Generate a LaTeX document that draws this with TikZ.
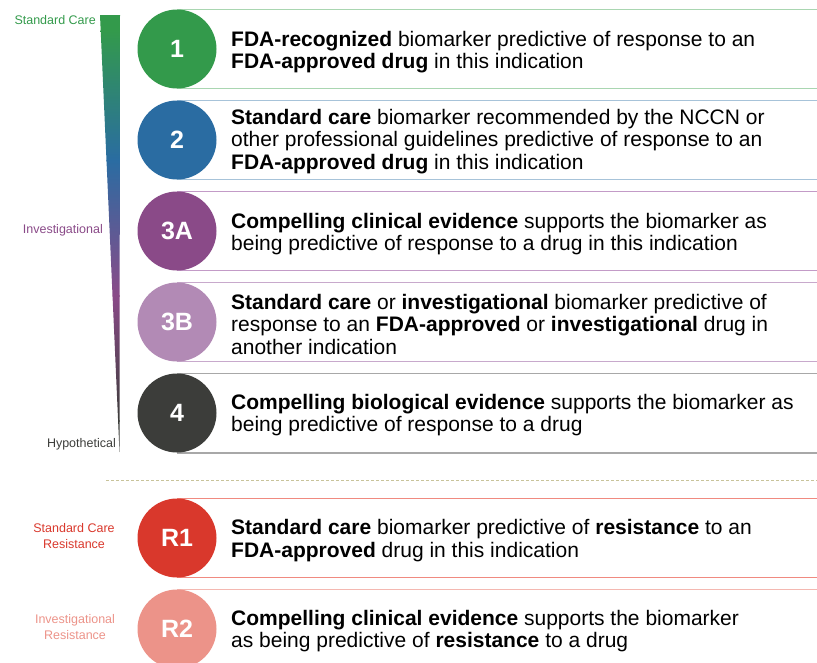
\documentclass[tikz,border=0pt]{standalone}
\usepackage{fontspec}
\setmainfont{Liberation Sans}
\usetikzlibrary{backgrounds}
\definecolor{cgreen}{HTML}{339A4B}
\definecolor{cteal}{HTML}{2B7F82}
\definecolor{cblue}{HTML}{2A6CA2}
\definecolor{cpurple}{HTML}{8A4A88}
\definecolor{clilac}{HTML}{B28AB5}
\definecolor{cdark}{HTML}{3C3D3A}
\definecolor{cred}{HTML}{D9382C}
\definecolor{cpink}{HTML}{EC9389}
\definecolor{lgreen}{HTML}{A9D6B1}
\definecolor{lblue}{HTML}{A7C3D9}
\definecolor{lpurple}{HTML}{C39BC7}
\definecolor{llilac}{HTML}{C8A9CC}
\definecolor{lgray}{HTML}{A8A8A8}
\definecolor{lred}{HTML}{F08A80}
\definecolor{lpink}{HTML}{F4B8B1}
\definecolor{khaki}{HTML}{C8C39A}
\begin{document}
\begin{tikzpicture}[x=1pt,y=-1pt,
  num/.style={circle, minimum size=79pt, inner sep=0pt, text=white,
    font=\fontsize{25}{25}\selectfont\bfseries},
  desc/.style={anchor=west, align=left, inner sep=0pt,
    font=\fontsize{21}{22.5}\selectfont},
  side/.style={inner sep=0pt, font=\fontsize{12.5}{15.5}\selectfont},
  rule/.style={line width=1.2pt}]
\useasboundingbox (0,0) rectangle (817,662);
\clip (0,0) rectangle (817,662);
\coordinate (R) at (817,0);

% wedge with vertical colour gradient
\begin{scope}
\clip (100,15) -- (120,15) -- (119.5,452) -- cycle;
\fill[cgreen] (95,10) rectangle (125,31);
\shade[top color=cgreen, bottom color=cblue, shading angle=0] (95,30) rectangle (125,161);
\shade[top color=cblue, bottom color=cpurple] (95,160) rectangle (125,296);
\shade[top color=cpurple, bottom color=cdark] (95,295) rectangle (125,421);
\fill[cdark] (95,420) rectangle (125,460);
\end{scope}

% side labels
\node[side, anchor=east, text=cgreen] (s1) at (96,20) {Standard Care};
\node[side, anchor=east, text=cpurple] (s2) at (103,230) {Investigational};
\node[side, anchor=east, text=cdark] (s3) at (116,444) {Hypothetical};
\node[side, align=center, text=cred] (s4) at (74,536) {Standard Care\\Resistance};
\node[side, align=center, text=cpink] (s5) at (75,627) {Investigational\\Resistance};

% circles
\node[num, fill=cgreen] (c1) at (177,49) {1};
\node[num, fill=cblue] (c2) at (177,140) {2};
\node[num, fill=cpurple] (c3a) at (177,231) {3A};
\node[num, fill=clilac] (c3b) at (177,322) {3B};
\node[num, fill=cdark] (c4) at (177,413) {4};
\node[num, fill=cred] (r1) at (177,538) {R1};
\node[num, fill=cpink] (r2) at (177,629) {R2};

% texts
\node[desc] (t1) at (231,52) {\textbf{FDA-recognized} biomarker predictive of response to an\\\textbf{FDA-approved drug} in this indication};
\node[desc] (t2) at (231,141.5) {\textbf{Standard care} biomarker recommended by the NCCN or\\other professional guidelines predictive of response to an\\\textbf{FDA-approved drug} in this indication};
\node[desc] (t3a) at (231,234) {\textbf{Compelling clinical evidence} supports the biomarker as\\being predictive of response to a drug in this indication};
\node[desc] (t3b) at (231,324) {\textbf{Standard care} or \textbf{investigational} biomarker predictive of\\response to an \textbf{FDA-approved} or \textbf{investigational} drug in\\another indication};
\node[desc] (t4) at (231,415) {\textbf{Compelling biological evidence} supports the biomarker as\\being predictive of response to a drug};
\node[desc] (tr1) at (231,540.5) {\textbf{Standard care} biomarker predictive of \textbf{resistance} to an\\\textbf{FDA-approved} drug in this indication};
\node[desc] (tr2) at (231,631) {\textbf{Compelling clinical evidence} supports the biomarker\\as being predictive of \textbf{resistance} to a drug};

\begin{scope}[on background layer]
\draw[rule, lgreen] (c1.north) -- (c1.north -| R);
\draw[rule, lgreen] (c1.south) -- (c1.south -| R);
\draw[rule, lblue] (c2.north) -- (c2.north -| R);
\draw[rule, lblue] (c2.south) -- (c2.south -| R);
\draw[rule, lpurple] (c3a.north) -- (c3a.north -| R);
\draw[rule, lpurple] (c3a.south) -- (c3a.south -| R);
\draw[rule, llilac] (c3b.north) -- (c3b.north -| R);
\draw[rule, llilac] (c3b.south) -- (c3b.south -| R);
\draw[rule, lgray, line width=1.6pt] (c4.north) -- (c4.north -| R);
\draw[rule, lgray, line width=1.6pt] (c4.south) -- (c4.south -| R);
\draw[rule, lred] (r1.north) -- (r1.north -| R);
\draw[rule, lred] (r1.south) -- (r1.south -| R);
\draw[rule, lpink] (r2.north) -- (r2.north -| R);
\end{scope}

% separator
\coordinate (d0) at (106,480);
\draw[khaki, line width=0.8pt, dash pattern=on 3pt off 2pt] (d0) -- (d0 -| R);
\end{tikzpicture}
\end{document}
